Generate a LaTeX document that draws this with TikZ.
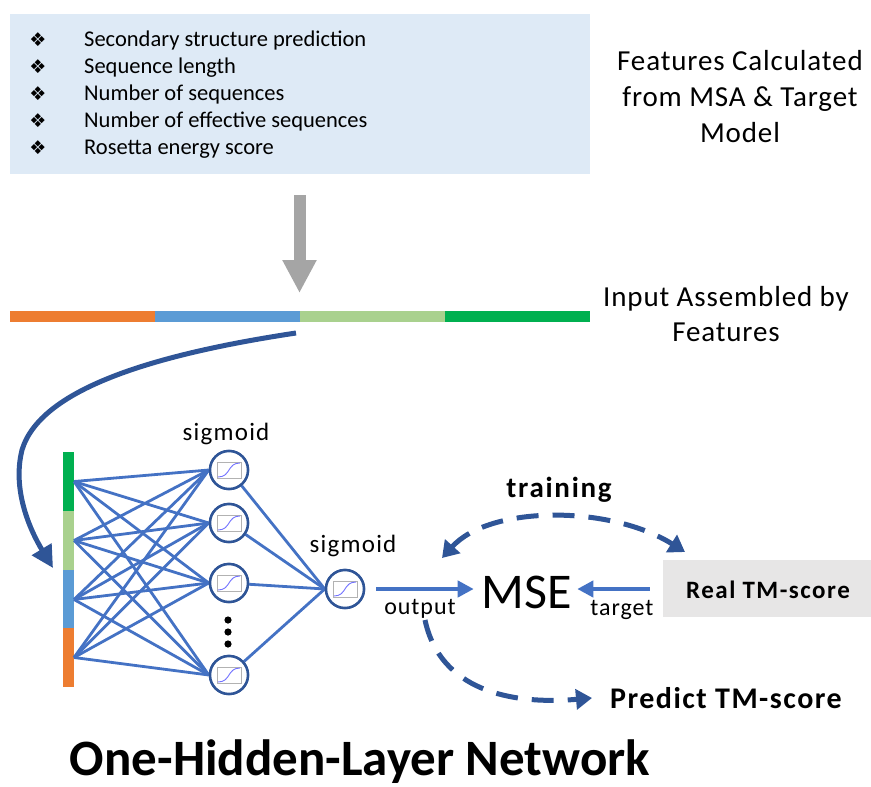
\documentclass[tikz,border=0pt]{standalone}
\usepackage{fontspec}
\setmainfont{Carlito}
\newfontfamily\djv{DejaVu Sans}
\usetikzlibrary{arrows.meta,calc}
\definecolor{dblue}{HTML}{2F5597}
\definecolor{mblue}{HTML}{4472C4}
\definecolor{arrgray}{HTML}{A5A5A5}
\definecolor{boxblue}{HTML}{DEEAF6}
\definecolor{boxgray}{HTML}{E7E6E6}
\definecolor{segorange}{HTML}{ED7D31}
\definecolor{segblue}{HTML}{5B9BD5}
\definecolor{seglgreen}{HTML}{A9D18E}
\definecolor{seggreen}{HTML}{00B050}
\newcommand\setfs[1]{\fontsize{#1}{#1}\selectfont}
\newcommand\lsp[1]{\addfontfeatures{LetterSpace=#1}}
\begin{document}
\begin{tikzpicture}[x=1pt,y=-1pt,
  seg/.style={rectangle, inner sep=0, outer sep=0, minimum width=145, minimum height=11},
  vseg/.style={rectangle, inner sep=0, outer sep=0, minimum width=11, minimum height=59},
  bul/.style={anchor=center, inner sep=0, font=\djv\setfs{19}},
  item/.style={anchor=mid west, inner sep=0, font=\setfs{22.5}},
  neuron/.style={circle, draw=dblue, line width=2.5, fill=white, minimum size=38, inner sep=0},
  edge/.style={mblue, line width=2.8},
  lbl/.style={anchor=base, inner sep=0, font=\setfs{25}\lsp{5}},
  dashcurve/.style={dblue, line width=5, dash pattern=on 22 off 14, -{Triangle[length=16,width=20]}},
  sigicon/.pic={
    \draw[black!30, line width=0.8] (-12,-8) rectangle (12,8);
    \draw[blue!55, line width=0.9] (-11,7) .. controls (2,7) and (-2,-7) .. (11,-7);
  }
]
\useasboundingbox (0,0) rectangle (871,787);

% feature box
\node[rectangle, fill=boxblue, minimum width=580, minimum height=160, inner sep=0, anchor=north west] (feat) at (10,14) {};
\foreach \t [count=\i] in {Secondary structure prediction, Sequence length, Number of sequences, Number of effective sequences, Rosetta energy score}{
  \node[bul] (b\i) at (38,{13+27*\i}) {❖};
  \node[item] (it\i) at (84,{17+27*\i}) {\t};
}
\node[align=center, font=\fontsize{29}{36}\selectfont\lsp{3}, inner sep=0] (feattxt) at (740,97) {Features Calculated\\from MSA \& Target\\Model};

% input bar
\node[seg, fill=segorange] (s1) at (82.5,316.5) {};
\node[seg, fill=segblue] (s2) at (227,316.5) {};
\node[seg, fill=seglgreen] (s3) at (372,316.5) {};
\node[seg, fill=seggreen] (s4) at (517,316.5) {};
\node[align=center, font=\fontsize{29}{35}\selectfont\lsp{3}, inner sep=0] (inptxt) at (726,314) {Input Assembled by\\Features};

% gray arrow
\draw[arrgray, line width=12, shorten <=21, shorten >=18, -{Triangle[length=33,width=32]}] (feat.south -| s3.west) -- (s3.north west);

% vertical input bar
\node[vseg, fill=seggreen] (v1) at (68.5,481.5) {};
\node[vseg, fill=seglgreen] (v2) at (68.5,540.5) {};
\node[vseg, fill=segblue] (v3) at (68.5,599.5) {};
\node[vseg, fill=segorange] (v4) at (68.5,657.5) {};

% curved arrow
\coordinate (cstart) at (296,333);
\coordinate (cend) at (53,568);
\draw[dblue, line width=5, -{Triangle[length=22,width=22]}] (cstart) .. controls (150,355) and (40,390) .. (22,450) .. controls (12,490) and (30,530) .. (cend);

% neurons
\node[neuron] (h1) at (229,470) {};
\node[neuron] (h2) at (229,523) {};
\node[neuron] (h3) at (229,583) {};
\node[neuron] (h4) at (229,675) {};
\node[neuron] (o) at (345,589) {};

\foreach \a in {1,2,3,4}{
  \foreach \b in {1,2,3,4}{
    \draw[edge] (v\a.east) -- (h\b.west);
  }
  \draw[edge] (h\a) -- (o.west);
}
% redraw neurons on top
\foreach \n in {h1,h2,h3,h4,o}{
  \node[neuron] at (\n) {};
  \pic at (\n) {sigicon};
}
\foreach \d in {620,632,644}{
  \fill[black] (228,\d) circle (3.6);
}

\node[lbl] (sg1) at (226,440) {sigmoid};
\node[lbl] (sg2) at (353,552) {sigmoid};

% MSE and target
\node[anchor=base, inner sep=0, font=\setfs{50}] (mse) at (527,608) {MSE};
\node[rectangle, fill=boxgray, minimum width=208, minimum height=57, inner sep=0] (real) at (767,588.5) {};
\node[anchor=base, inner sep=0, font=\setfs{25}\bfseries\lsp{6}] (realtxt) at (768,598) {Real TM-score};

\draw[mblue, line width=4, shorten <=11, shorten >=8, -{Triangle[length=16,width=16]}] (o.east) -- (o.east -| mse.west);
\draw[mblue, line width=4, shorten <=13, shorten >=5, -{Triangle[length=16,width=16]}] (real.west |- o.east) -- (o.east -| mse.east);
\node[lbl, font=\setfs{24}\lsp{4}] (outlbl) at (420,614) {output};
\node[lbl, font=\setfs{24}\lsp{4}] (tgtlbl) at (622,615) {target};

% training arc
\coordinate (trL) at (442,558);
\coordinate (trR) at (685,552);
\draw[dashcurve, {Triangle[length=16,width=20]}-{Triangle[length=16,width=20]}] (trL) .. controls (490,505) and (610,505) .. (trR);
\node[lbl, font=\setfs{29}\bfseries\lsp{6}] (train) at (559,497) {training};

% predict
\coordinate (pstart) at (425,620);
\coordinate (pend) at (592,698);
\draw[dashcurve] (pstart) .. controls (440,690) and (510,705) .. (pend);
\node[lbl, font=\setfs{30}\bfseries\lsp{5}] (pred) at (726,708) {Predict TM-score};

% title
\node[anchor=base, inner sep=0, font=\setfs{51}\bfseries] (title) at (360,775) {One-Hidden-Layer Network};
\end{tikzpicture}
\end{document}
